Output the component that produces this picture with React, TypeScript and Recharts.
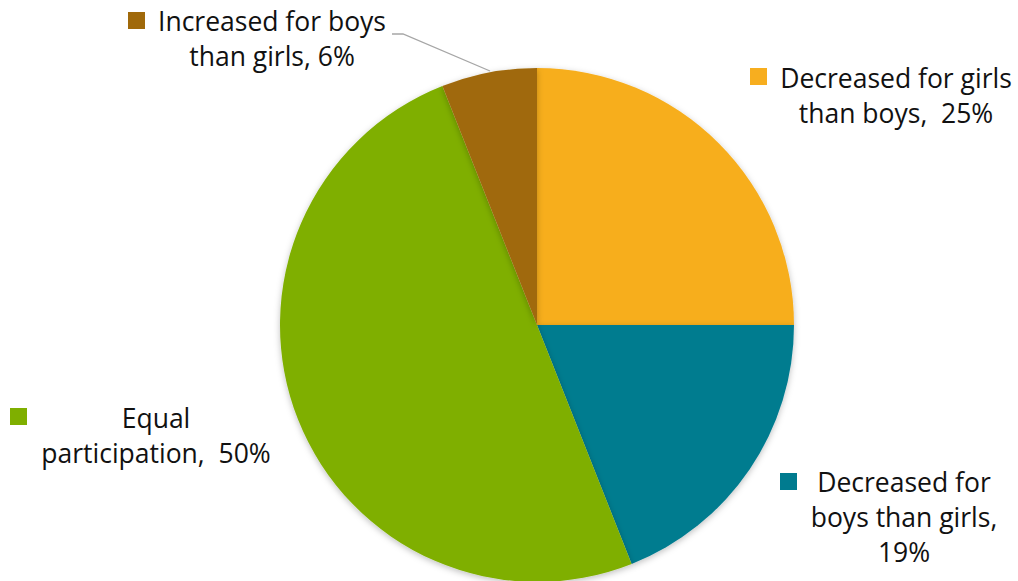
import React from 'react';
import { PieChart, Pie, Cell } from 'recharts';

const categories = [
  'Decreased for girls than boys',
  'Decreased for boys than girls',
  'Equal participation',
  'Increased for boys than girls',
];
const values = [25, 19, 50, 6];
const colors = ['#F7AE1F', '#007B8F', '#7FAF00', '#A0690A'];
// wrapped label lines, {v} gets the value
const labelLines = [
  ['Decreased for girls', 'than boys,  {v}%'],
  ['Decreased for', 'boys than girls,', '{v}%'],
  ['Equal', 'participation,  {v}%'],
  ['Increased for boys', 'than girls, {v}%'],
];

// label layout: text centre x, first baseline y, marker x/y
const labelPos = [
  { cx: 896, y: 88, mx: 750, my: 68 },
  { cx: 904, y: 492, mx: 780, my: 473 },
  { cx: 156, y: 428, mx: 10, my: 408 },
  { cx: 272, y: 31, mx: 128, my: 12 },
];

const data = categories.map((name, i) => ({ name, value: values[i] }));

const FONT = '"Open Sans", sans-serif';

const renderLabel = (props: any) => {
  const i = props.index;
  const p = labelPos[i];
  const lines = labelLines[i].map((l) => l.replace('{v}', String(values[i])));
  return (
    <g key={`lbl-${i}`}>
      <rect x={p.mx} y={p.my} width={17} height={17} fill={colors[i]} />
      <text
        x={p.cx}
        y={p.y}
        textAnchor="middle"
        fontFamily={FONT}
        fontSize={26.5}
        fill="#111"
        style={{ whiteSpace: 'pre' }}
      >
        {lines.map((l, k) => (
          <tspan key={k} x={p.cx} dy={k === 0 ? 0 : 35}>
            {l}
          </tspan>
        ))}
      </text>
      {i === 3 && (
        <polyline points="392,34 403,34 490,71" fill="none" stroke="#A6A6A6" strokeWidth={1.3} />
      )}
    </g>
  );
};

const App: React.FC = () => {
  return (
    <div style={{ width: 1018, height: 581, background: '#fff' }}>
      <style>{`body{margin:0}`}</style>
      <PieChart width={1018} height={581} margin={{ top: 0, right: 0, bottom: 0, left: 0 }}>
        <defs>
          <filter id="pieShadow" x="-10%" y="-10%" width="120%" height="120%">
            <feDropShadow dx="0" dy="2" stdDeviation="3" floodColor="#000" floodOpacity="0.25" />
          </filter>
        </defs>
        <Pie
          data={data}
          dataKey="value"
          nameKey="name"
          cx={537}
          cy={325}
          outerRadius={257}
          startAngle={90}
          endAngle={-270}
          stroke="none"
          label={renderLabel}
          labelLine={false}
          isAnimationActive={false}
          style={{ filter: 'url(#pieShadow)' }}
        >
          {data.map((_, index) => (
            <Cell key={`cell-${index}`} fill={colors[index]} />
          ))}
        </Pie>
      </PieChart>
    </div>
  );
};

export default App;
